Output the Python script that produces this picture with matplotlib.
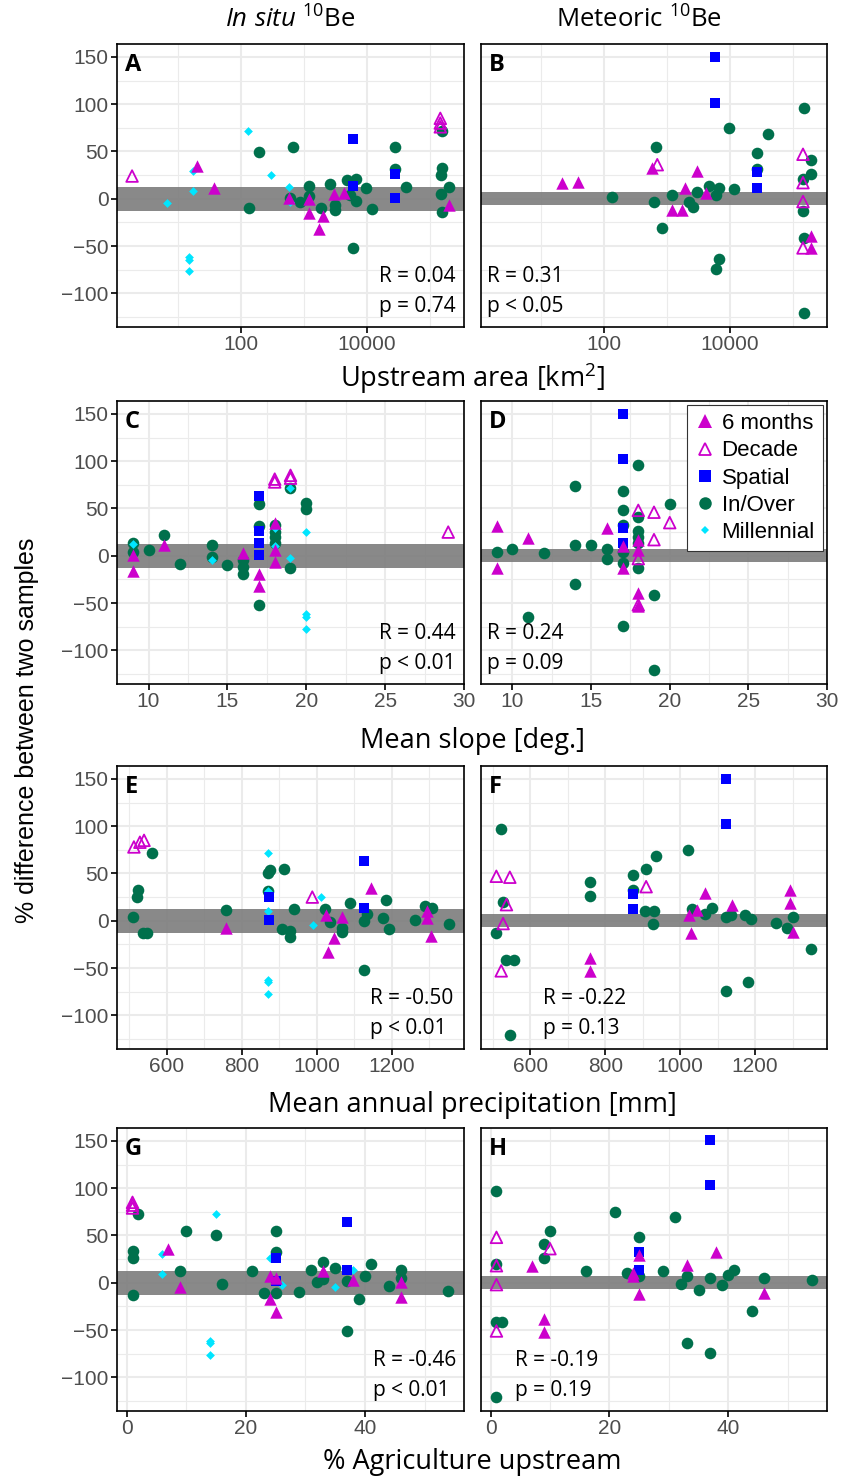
import matplotlib
matplotlib.use("Agg")
import matplotlib.pyplot as plt
from matplotlib.ticker import FixedLocator, NullFormatter
from matplotlib.lines import Line2D

plt.rcParams['font.family'] = ['Liberation Sans', 'DejaVu Sans']
plt.rcParams['mathtext.fontset'] = 'custom'
plt.rcParams['mathtext.rm'] = 'Open Sans'
plt.rcParams['mathtext.it'] = 'Open Sans:italic'

# categories
categories = ['6 months', 'Decade', 'Spatial', 'In/Over', 'Millennial']

# panel A: upstream area [km2] vs % difference (in situ)
a_months = [(20, 35), (38, 11), (585, 1), (1190, 0), (1190, -15), (2050, -18), (1750, -32),
            (3000, 5), (4400, 6), (198000, -7)]
a_decade = [(1.9, 24), (146000, 85), (146000, 80), (146000, 76)]
a_spatial = [(6100, 63), (6100, 13), (28000, 26), (28000, 1)]
a_inover = [(137, -10), (198, 49), (670, 55), (606, 1), (875, -3), (1190, 14), (1230, 3),
            (1880, -10), (2600, 16), (3140, -7), (3100, -12), (4800, 20), (6800, 21), (5400, 4),
            (6800, -2), (6100, -52), (9800, 11), (12000, -11), (28000, 55), (28000, 31),
            (41600, 12), (158000, 72), (155000, 33), (152000, 25), (200000, 12), (150000, 5),
            (155000, -14)]
a_millennial = [(6.7, -4), (17.7, 29), (17.7, 8), (15.3, -62), (15.3, -65), (15.3, -76),
                (132, 72), (302, 25), (585, 12), (610, -3)]

# panel B: upstream area vs % difference (meteoric)
b_months = [(21, 17), (38, 18), (566, 32), (2980, 29), (1950, 11), (1200, -12), (1730, -12),
            (4130, 6), (190000, -39), (195000, -52)]
b_decade = [(695, 36), (144000, 47), (144000, 17), (144000, -3), (144000, -52)]
b_spatial = [(5800, 150), (5800, 101), (27000, 28), (27000, 11)]
b_inover = [(132, 2), (670, 55), (615, -3), (834, -31), (1170, 4), (2250, -3), (2540, -9),
            (2980, 7), (4650, 14), (6540, 11), (5900, 4), (6540, -64), (5900, -74), (9640, 75),
            (11400, 10), (27000, 48), (27000, 31), (39400, 68), (149000, 96), (195000, 41),
            (195000, 26), (144000, 21), (144000, -13), (149000, -42), (152000, -121)]
b_millennial = []

# panel C: mean slope [deg.] (in situ)
c_months = [(9, 1), (9, -16), (11, 11), (16, 3), (17, -19), (17, -32), (18, 35), (18, 6), (18, -7)]
c_decade = [(18, 81), (18, 78), (19, 85), (19, 82), (29, 25)]
c_spatial = [(17, 63), (17, 26), (17, 13), (17, 1)]
c_inover = [(9, 14), (9, 4), (10, 6), (11, 22), (12, -9), (14, 11), (14, -1), (15, -10), (16, -4),
            (16, -12), (16, -19), (17, 55), (17, 31), (17, -52), (18, 32), (18, 25), (18, 20),
            (18, 13), (19, 72), (19, -13), (20, 56), (20, 49)]
c_millennial = [(9, 12), (14, -4), (18, 29), (18, 10), (19, 72), (19, -2), (20, 25), (20, -62),
                (20, -65), (20, -77)]

# panel D: mean slope (meteoric)
d_months = [(9, 31), (9, -13), (11, 19), (16, 29), (17, 10), (17, -13), (18, 17), (18, 6),
            (18, -39), (18, -53)]
d_decade = [(18, 48), (19, 46), (20, 35), (19, 17), (18, -3), (18, -52)]
d_spatial = [(17, 150), (17, 102), (17, 29), (17, 13)]
d_inover = [(9, 4), (10, 7), (12, 3), (14, 74), (14, 11), (14, -30), (11, -65), (15, 11), (16, 7),
            (16, -3), (17, 68), (17, 48), (17, 33), (17, 4), (17, -8), (17, -74), (18, 96),
            (18, 41), (18, 26), (18, 20), (18, 13), (18, -13), (19, -42), (19, -121), (20, 55)]
d_millennial = []

# panel E: mean annual precipitation [mm] (in situ)
e_months = [(759, -8), (1024, 6), (1046, -18), (1031, -33), (1068, 4), (1145, 35), (1294, 10),
            (1294, 3), (1303, -16)]
e_decade = [(513, 78), (529, 83), (540, 85), (988, 25)]
e_spatial = [(1127, 63), (1127, 13), (873, 25), (873, 1)]
e_inover = [(511, 4), (524, 32), (522, 25), (538, -13), (547, -13), (560, 72), (759, 11), (870, 50),
            (876, 54), (871, 31), (912, 55), (907, -9), (930, -11), (928, -17), (938, 12),
            (1022, 12), (1036, -1), (1067, -8), (1067, -12), (1088, 19), (1127, 0), (1127, -52),
            (1135, 7), (1176, 3), (1183, 22), (1192, -9), (1261, 1), (1288, 16), (1306, 13),
            (1353, -3)]
e_millennial = [(870, 72), (870, 31), (870, 10), (870, -63), (870, -65), (870, -77), (1012, 25),
                (990, -4)]

# panel F: mean annual precipitation (meteoric)
f_months = [(758, -39), (758, -53), (1024, 6), (1028, -13), (1044, 11), (1065, 29), (1139, 17),
            (1294, 32), (1294, 19), (1300, -12)]
f_decade = [(509, 47), (545, 46), (536, 17), (527, -3), (522, -53), (909, 36)]
f_spatial = [(1123, 150), (1123, 102), (875, 28), (875, 12)]
f_inover = [(522, 97), (527, 20), (509, -13), (536, -42), (557, -41), (545, -121), (758, 41),
            (758, 26), (874, 48), (874, 32), (909, 55), (936, 68), (905, 10), (930, 10), (927, -3),
            (1021, 75), (1032, 12), (1065, 7), (1086, 13), (1123, 4), (1135, 6), (1123, -74),
            (1180, -65), (1172, 6), (1190, 2), (1257, -2), (1300, 4), (1285, -8), (1349, -30)]
f_millennial = []

# panel G: % agriculture upstream (in situ)
g_months = [(7, 36), (9, -5), (24, 7), (25, 5), (24, -17), (25, -31), (33, 12), (38, 3), (46, 1),
            (46, -15)]
g_decade = [(1, 85), (1, 82), (1, 79)]
g_spatial = [(37, 64), (37, 14), (25, 26), (25, 2)]
g_inover = [(2, 73), (1, 34), (1, 26), (1, -13), (9, 12), (10, 55), (15, 50), (16, -1), (21, 12),
            (23, -11), (25, 55), (25, 32), (25, -11), (29, -10), (31, 13), (32, 1), (33, 22),
            (33, 4), (35, 16), (37, 2), (37, -51), (39, -17), (40, 7), (41, 20), (44, -3),
            (46, 14), (46, 5), (54, -9)]
g_millennial = [(6, 30), (6, 9), (15, 73), (14, -62), (14, -64), (14, -76), (24, 26), (26, -2),
                (35, -4), (38, 13)]

# panel H: % agriculture upstream (meteoric)
h_months = [(7, 18), (9, -38), (9, -52), (24, 10), (24, 7), (25, 29), (25, -12), (33, 19),
            (38, 33), (46, -11)]
h_decade = [(1, 48), (1, 18), (1, -2), (1, -51), (10, 36)]
h_spatial = [(37, 151), (37, 103), (25, 32), (25, 13)]
h_inover = [(1, 97), (1, 20), (1, -41), (2, -41), (1, -121), (9, 41), (10, 55), (9, 26), (16, 12),
            (21, 75), (23, 10), (25, 48), (25, 7), (29, 12), (31, 69), (32, -1), (33, 7),
            (33, -64), (35, -8), (37, 5), (37, -74), (39, -2), (40, 8), (41, 14), (44, -30),
            (46, 5), (54, 3)]
h_millennial = []

stats = {'A': ('R = 0.04', 'p = 0.74'), 'B': ('R = 0.31', 'p < 0.05'),
         'C': ('R = 0.44', 'p < 0.01'), 'D': ('R = 0.24', 'p = 0.09'),
         'E': ('R = -0.50', 'p < 0.01'), 'F': ('R = -0.22', 'p = 0.13'),
         'G': ('R = -0.46', 'p < 0.01'), 'H': ('R = -0.19', 'p = 0.19')}

MAG = '#CC00CC'
GREEN = '#00704C'
BLUE = '#0000FF'
CYAN = '#00E5FF'
GRID = '#EBEBEB'

W, H = 842, 1479
fig = plt.figure(figsize=(W / 100, H / 100), dpi=100)


def add_ax(x0, top, w, h):
    return fig.add_axes([x0 / W, 1 - (top + h) / H, w / W, h / H])


def scatter(ax, pts, **kw):
    if not pts:
        return
    xs = [p[0] for p in pts]
    ys = [p[1] for p in pts]
    ax.scatter(xs, ys, **kw)


def draw_panel(ax, letter, months, decade, spatial, inover, millennial, band, left_col, stat_x):
    ax.set_ylim(-135.6, 163.6)
    ax.set_yticks([-100, -50, 0, 50, 100, 150])
    ax.yaxis.set_minor_locator(FixedLocator([-125, -75, -25, 25, 75, 125]))
    ax.grid(which='major', color=GRID, lw=1.5)
    ax.grid(which='minor', color=GRID, lw=0.8)
    ax.set_axisbelow(True)
    ax.axhspan(-band, band, color='#7F7F7F', alpha=0.92, lw=0, zorder=1)
    scatter(ax, inover, marker='o', s=70, color=GREEN, lw=0, zorder=3)
    scatter(ax, millennial, marker='D', s=20, color=CYAN, lw=0, zorder=3)
    scatter(ax, spatial, marker='s', s=55, color=BLUE, lw=0, zorder=3)
    scatter(ax, months, marker='^', s=80, color=MAG, lw=0, zorder=4)
    scatter(ax, decade, marker='^', s=70, facecolor='none', edgecolor=MAG, lw=1.3, zorder=4)
    for sp in ax.spines.values():
        sp.set_linewidth(1.2)
        sp.set_color('black')
    ax.tick_params(which='major', length=4, width=1.2, color='black', labelcolor='#4D4D4D',
                   labelsize=15, pad=2)
    ax.tick_params(which='minor', length=0)
    if not left_col:
        ax.tick_params(axis='y', which='both', left=False, labelleft=False)
    ax.text(0.023, 0.925, letter, transform=ax.transAxes, fontsize=17, fontweight='bold',
            family='Open Sans', va='center', ha='left')
    r_txt, p_txt = stats[letter]
    ax.text(stat_x, 0.177, r_txt, transform=ax.transAxes, fontsize=15, family='Open Sans',
            va='center', ha='left')
    ax.text(stat_x, 0.074, p_txt, transform=ax.transAxes, fontsize=15, family='Open Sans',
            va='center', ha='left')


tops = [44, 401, 766, 1128]
ph = 283
lx, lw_ = 117, 347
rx, rw = 481, 346

panels = [
    ('A', a_months, a_decade, a_spatial, a_inover, a_millennial),
    ('B', b_months, b_decade, b_spatial, b_inover, b_millennial),
    ('C', c_months, c_decade, c_spatial, c_inover, c_millennial),
    ('D', d_months, d_decade, d_spatial, d_inover, d_millennial),
    ('E', e_months, e_decade, e_spatial, e_inover, e_millennial),
    ('F', f_months, f_decade, f_spatial, f_inover, f_millennial),
    ('G', g_months, g_decade, g_spatial, g_inover, g_millennial),
    ('H', h_months, h_decade, h_spatial, h_inover, h_millennial),
]
# left edge of R/p text block, in figure pixels
stat_left = {'A': 379, 'B': 487, 'C': 379, 'D': 487, 'E': 370, 'F': 543, 'G': 373, 'H': 515}

axes = {}
for i, (letter, mo, de, sp, io, mi) in enumerate(panels):
    row, col = divmod(i, 2)
    if col == 0:
        ax = add_ax(lx, tops[row], lw_, ph)
        sx = (stat_left[letter] - lx) / lw_
    else:
        ax = add_ax(rx, tops[row], rw, ph)
        sx = (stat_left[letter] - rx) / rw
    axes[letter] = ax
    if row == 0:
        ax.set_xscale('log')
        ax.set_xlim(10 ** 0.04, 10 ** 5.54)
        ax.xaxis.set_major_locator(FixedLocator([100, 10000]))
        ax.set_xticklabels(['100', '10000'])
        ax.xaxis.set_minor_locator(FixedLocator([10, 1000, 100000]))
        ax.xaxis.set_minor_formatter(NullFormatter())
    elif row == 1:
        ax.set_xlim(8, 30)
        ax.set_xticks([10, 15, 20, 25, 30])
        ax.xaxis.set_minor_locator(FixedLocator([12.5, 17.5, 22.5, 27.5]))
    elif row == 2:
        ax.set_xlim(468, 1392)
        ax.set_xticks([600, 800, 1000, 1200])
        ax.xaxis.set_minor_locator(FixedLocator([500, 700, 900, 1100, 1300]))
    else:
        ax.set_xlim(-1.6, 56.6)
        ax.set_xticks([0, 20, 40])
        ax.xaxis.set_minor_locator(FixedLocator([10, 30, 50]))
    band = 12.5 if col == 0 else 7
    draw_panel(ax, letter, mo, de, sp, io, mi, band, col == 0, sx)

# legend in panel D
handles = [
    Line2D([], [], ls='none', marker='^', ms=9.5, color=MAG, mew=0),
    Line2D([], [], ls='none', marker='^', ms=9, mfc='none', mec=MAG, mew=1.3),
    Line2D([], [], ls='none', marker='s', ms=8, color=BLUE, mew=0),
    Line2D([], [], ls='none', marker='o', ms=9, color=GREEN, mew=0),
    Line2D([], [], ls='none', marker='D', ms=4.5, color=CYAN, mew=0),
]
leg = axes['D'].legend(handles, categories, loc='upper right', bbox_to_anchor=(1, 1),
                       borderaxespad=0.2, fontsize=16, frameon=True, fancybox=False,
                       framealpha=1, edgecolor='#333333', handlelength=0.9, handletextpad=0.3,
                       labelspacing=0.28, borderpad=0.35)
leg.get_frame().set_linewidth(0.8)
leg.set_zorder(10)

# column titles
fig.text(290 / W, 1 - 20 / H, r'$\mathit{In\ situ}$ $^{10}$Be', fontsize=18.5, family='Open Sans',
         ha='center', va='center')
fig.text(639 / W, 1 - 20 / H, r'Meteoric $^{10}$Be', fontsize=18.5, family='Open Sans',
         ha='center', va='center')

# x labels
xlabels = ['Upstream area [km$^2$]', 'Mean slope [deg.]', 'Mean annual precipitation [mm]',
           '% Agriculture upstream']
xlabel_y = [378, 741, 1105, 1462]
for lab, yy in zip(xlabels, xlabel_y):
    fig.text(472 / W, 1 - yy / H, lab, fontsize=19.5, family='Open Sans', ha='center', va='center')

fig.text(27 / W, 1 - 730 / H, '% difference between two samples', fontsize=18, rotation=90,
         ha='center', va='center')

fig.savefig('out.png', dpi=100)
